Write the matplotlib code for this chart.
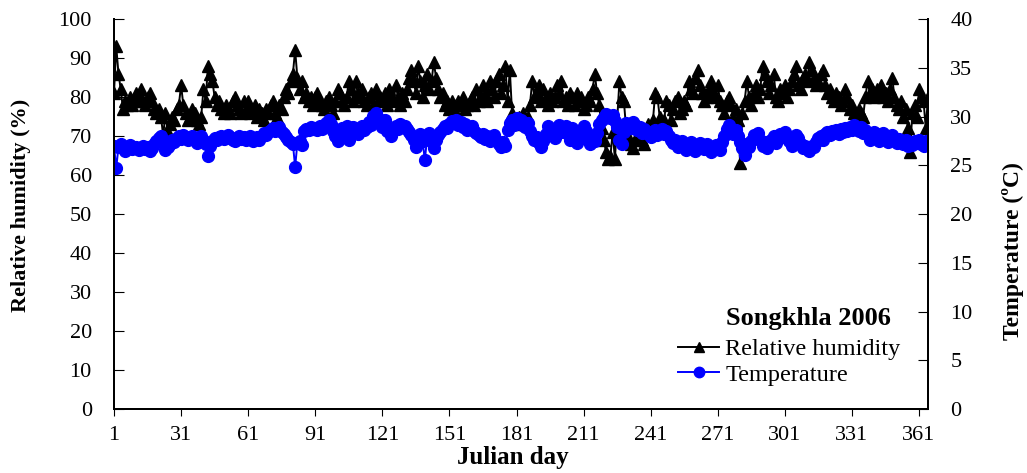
import numpy as np
import matplotlib.pyplot as plt
from matplotlib.lines import Line2D

# daily relative humidity (%), Songkhla 2006, days 1-365
rh = [
    81, 93, 86, 82, 77, 79, 78, 80, 78, 79,
    81, 80, 82, 79, 78, 80, 81, 79, 77, 76,
    77, 75, 70, 76, 71, 73, 75, 74, 77, 78,
    83, 78, 76, 74, 75, 77, 76, 74, 73, 75,
    82, 79, 88, 86, 84, 80, 78, 79, 77, 76,
    78, 77, 76, 79, 80, 78, 77, 76, 79, 77,
    79, 76, 77, 78, 75, 77, 76, 74, 77, 76,
    78, 79, 76, 75, 78, 77, 80, 82, 81, 84,
    86, 92, 85, 82, 84, 80, 81, 79, 80, 78,
    80, 81, 79, 78, 77, 79, 80, 78, 76, 79,
    82, 81, 79, 78, 80, 84, 82, 79, 84, 81,
    80, 82, 79, 78, 80, 81, 78, 82, 79, 80,
    79, 81, 78, 82, 80, 79, 83, 80, 78, 81,
    79, 82, 85, 87, 84, 81, 88, 84, 80, 83,
    86, 82, 84, 89, 85, 82, 80, 81, 78, 79,
    77, 79, 78, 76, 79, 78, 80, 77, 78, 79,
    80, 78, 82, 79, 80, 83, 81, 79, 84, 82,
    80, 84, 86, 81, 83, 88, 79, 87, 76, 74,
    73, 75, 74, 76, 73, 75, 78, 84, 80, 81,
    83, 79, 82, 80, 78, 81, 79, 80, 83, 81,
    84, 79, 80, 78, 81, 80, 78, 81, 79, 80,
    77, 78, 80, 79, 82, 86, 81, 78, 72, 69,
    66, 64, 65, 71, 64, 74, 84, 80, 79, 72,
    70, 68, 67, 69, 70, 72, 69, 68, 71, 73,
    72, 74, 81, 80, 75, 73, 74, 79, 78, 74,
    77, 79, 80, 76, 77, 79, 78, 84, 82, 81,
    85, 87, 83, 81, 79, 80, 82, 84, 81, 80,
    83, 79, 78, 76, 79, 80, 78, 75, 77, 74,
    63, 76, 79, 84, 80, 78, 81, 83, 80, 82,
    88, 86, 84, 81, 83, 86, 80, 79, 82, 81,
    83, 80, 82, 84, 86, 88, 83, 82, 85, 86,
    84, 89, 87, 85, 83, 84, 86, 87, 83, 81,
    82, 80, 79, 81, 80, 78, 79, 82, 80, 77,
    78, 76, 75, 77, 76, 75, 80, 84, 81, 82,
    80, 82, 81, 83, 80, 81, 79, 82, 85, 80,
    78, 77, 79, 75, 77, 72, 66, 76, 78, 75,
    82, 80, 79, 72, 80,
]

# daily mean temperature (deg C)
temp = [
    27.0, 24.7, 26.9, 27.2, 26.8, 26.5, 26.9, 27.1, 26.7, 26.8,
    26.9, 26.6, 26.8, 27.0, 26.7, 26.9, 26.5, 26.8, 27.2, 27.5,
    27.8, 28.0, 27.3, 26.6, 26.9, 27.2, 27.6, 27.4, 27.8, 28.0,
    27.7, 28.1, 27.9, 27.6, 27.8, 28.0, 27.7, 27.3, 27.9, 28.0,
    27.6, 27.2, 25.9, 27.0, 27.5, 27.8, 27.6, 27.9, 28.0, 27.7,
    27.8, 28.1, 27.9, 27.6, 27.5, 27.8, 28.0, 27.7, 27.9, 27.6,
    27.8, 28.0, 27.5, 27.7, 27.9, 27.6, 28.0, 28.3, 28.1, 28.4,
    28.6, 28.8, 28.5, 28.7, 28.9, 28.4, 28.2, 27.9, 27.6, 27.4,
    27.2, 24.8, 27.3, 27.5, 27.1, 28.5, 28.7, 28.6, 28.9, 28.7,
    28.8, 28.6, 29.0, 28.7, 28.9, 29.3, 29.6, 29.2, 28.5, 28.0,
    27.5, 28.2, 28.8, 28.4, 29.0, 27.6, 28.3, 28.9, 28.5, 28.2,
    28.7, 29.0, 28.6, 28.9, 29.4, 29.1, 30.1, 30.4, 29.8, 29.3,
    28.9, 29.6, 28.5, 28.8, 28.0, 28.6, 29.0, 28.7, 29.2, 28.9,
    29.0, 28.7, 28.4, 28.1, 27.6, 26.9, 27.3, 28.2, 27.5, 25.5,
    27.8, 28.3, 27.4, 26.8, 27.6, 28.1, 28.4, 28.7, 29.0, 28.8,
    29.2, 29.5, 29.3, 29.6, 29.1, 29.4, 28.9, 29.2, 28.6, 28.8,
    29.0, 28.5, 28.3, 28.1, 27.9, 28.2, 27.7, 28.0, 27.5, 27.8,
    28.1, 27.6, 27.2, 26.9, 27.4, 27.0, 28.6, 29.3, 29.6, 29.1,
    29.8, 29.4, 29.6, 29.1, 28.9, 29.3, 28.5, 28.0, 27.6, 27.9,
    27.3, 26.9, 27.5, 28.2, 29.0, 28.6, 28.3, 27.8, 28.5, 29.1,
    28.7, 28.4, 29.0, 28.2, 27.6, 28.8, 28.4, 27.3, 27.8, 28.6,
    29.0, 28.5, 27.8, 27.2, 28.0, 27.5, 28.3, 29.2, 29.6, 30.0,
    30.3, 30.1, 29.8, 30.2, 29.5, 28.9, 27.6, 27.2, 28.4, 29.3,
    29.0, 28.8, 29.4, 29.1, 28.6, 28.9, 28.3, 28.7, 28.5, 28.2,
    27.9, 28.3, 28.6, 28.1, 28.4, 28.7, 28.2, 28.5, 28.0, 27.6,
    27.3, 27.6, 26.9, 27.2, 27.5, 27.1, 26.6, 27.0, 27.4, 26.8,
    26.5, 26.9, 27.3, 27.0, 26.7, 27.2, 26.8, 26.4, 26.9, 27.1,
    26.8, 26.6, 27.4, 28.0, 28.7, 29.1, 28.5, 28.2, 28.6, 28.0,
    27.4, 26.8, 26.1, 27.2, 26.9, 27.5, 28.1, 27.8, 28.3, 27.6,
    27.0, 27.4, 26.8, 27.2, 27.6, 28.0, 27.3, 27.8, 28.2, 27.9,
    28.4, 28.0, 27.5, 27.0, 27.6, 28.1, 27.8, 27.2, 26.8, 27.0,
    26.7, 26.5, 27.0, 26.9, 27.4, 27.8, 28.0, 27.6, 28.2, 28.4,
    28.1, 28.5, 28.3, 28.6, 28.2, 28.7, 28.4, 28.8, 28.5, 28.9,
    28.6, 29.1, 28.8, 28.5, 28.9, 28.3, 28.6, 28.1, 27.6, 28.0,
    28.4, 28.2, 27.5, 28.0, 28.3, 27.8, 27.4, 27.9, 28.1, 27.6,
    27.3, 27.7, 27.5, 27.2, 27.6, 27.0, 27.4, 27.1, 27.5, 27.3,
    27.6, 27.2, 27.0, 27.5, 27.3,
]

x_ticks = list(range(1, 362, 30))

days = np.arange(1, len(rh) + 1)

plt.rcParams['font.family'] = ['Liberation Serif', 'DejaVu Serif']

fig = plt.figure(figsize=(10.27, 4.73), dpi=100)
ax = fig.add_axes([0.111, 0.1353, 0.7926, 0.8245])
ax2 = ax.twinx()

ax.plot(days, rh, color='black', lw=1.4, marker='^', ms=8.5, mec='black', mfc='black')
ax2.plot(days, temp, color='blue', lw=1.4, marker='o', ms=8.5, mec='blue', mfc='blue')

ax.set_xlim(1, 365)
ax.set_ylim(0, 100)
ax2.set_ylim(0, 40)
ax.set_xticks(x_ticks)
ax.set_yticks(range(0, 101, 10))
ax2.set_yticks(range(0, 41, 5))

ax.tick_params(axis='x', direction='out', length=5, labelsize=16, pad=7)
ax.tick_params(axis='y', direction='in', length=7, labelsize=16, pad=16)
ax2.tick_params(axis='y', direction='in', length=7, labelsize=16, pad=16)

for a in (ax, ax2):
    for s in a.spines.values():
        s.set_linewidth(1.4)
ax.spines['top'].set_visible(False)
ax2.spines['top'].set_visible(False)

# axis titles
fig.text(0.4995, 0.033, 'Julian day', ha='center', va='center', fontsize=18, fontweight='bold')
fig.text(0.0205, 0.565, 'Relative humidity (%)', ha='center', va='center', rotation=90,
         fontsize=16, fontweight='bold')
fig.text(0.9865, 0.47, 'Temperature (ºC)', ha='center', va='center', rotation=90,
         fontsize=17, fontweight='bold')

ax.text(0.8526, 0.233, 'Songkhla 2006', transform=ax.transAxes, ha='center', va='center',
        fontsize=19, fontweight='bold')

handles = [
    Line2D([], [], color='black', lw=1.4, marker='^', ms=7.5, mfc='black', mec='black'),
    Line2D([], [], color='blue', lw=1.4, marker='o', ms=7.5, mfc='blue', mec='blue'),
]
ax2.legend(handles, ['Relative humidity', 'Temperature'], loc='upper left',
           bbox_to_anchor=(0.693, 0.182), frameon=False, fontsize=17.5,
           handlelength=1.7, handletextpad=0.25, labelspacing=0.15, borderpad=0,
           borderaxespad=0)

fig.savefig('out.png', dpi=100)
